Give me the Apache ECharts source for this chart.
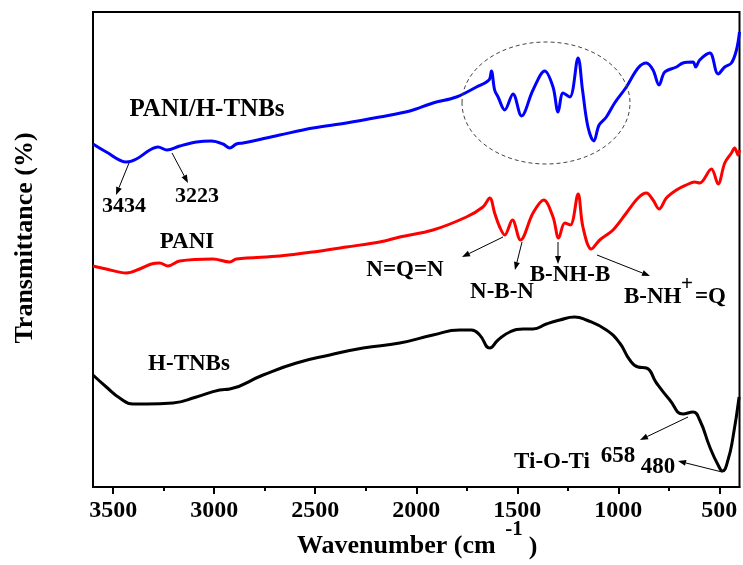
<!DOCTYPE html>
<html>
<head>
<meta charset="utf-8">
<script src="https://cdn.jsdelivr.net/npm/echarts@6/dist/echarts.min.js"></script>
<style>
html,body{margin:0;padding:0;background:#fff;}
#c{width:743px;height:565px;}
</style>
</head>
<body>
<div id="c"></div>
<script>
// Wavenumbers (cm^-1) and relative transmittance (arbitrary units, offset stacked)
const wnBlue = [3600,3534,3435,3385,3319,3278,3234,3171,3088,3014,2957,2923,2890,2858,2676,2511,2346,2181,2032,1917,1801,1702,1640,1628,1612,1595,1562,1521,1479,1422,1364,1323,1298,1273,1240,1199,1177,1150,1121,1095,1059,1018,960,902,861,828,798,770,712,680,630,617,597,547,506,473,440,415,400];
const tBlue  = [343,335,325,328,337,340,337,341,345,346,343,339,343,344,352,359,364,370,376,384,390,400,407,416,397,390,377,393,371,397,416,400,375,394,390,429,397,360,346,362,370,384,400,419,424,417,402,415,420,424,425,420,427,434,413,420,424,437,455];

const wnRed = [3600,3534,3435,3369,3311,3270,3229,3171,3006,2923,2890,2676,2511,2346,2181,2082,1917,1752,1670,1636,1612,1587,1562,1524,1484,1422,1369,1323,1295,1265,1237,1199,1175,1133,1092,1026,960,902,861,828,798,762,712,663,622,597,539,506,473,440,424,407,400];
const tRed  = [221,218,214,218,223,224,221,226,228,225,228,231,235,240,245,250,257,270,280,289,274,260,252,267,247,274,287,270,249,264,262,293,260,238,247,257,274,289,294,287,278,289,297,302,305,304,318,303,324,334,339,332,337];

const wnBlack = [3600,3534,3468,3402,3336,3204,3088,2973,2923,2758,2593,2428,2263,2082,1917,1785,1727,1686,1636,1595,1537,1471,1422,1356,1290,1216,1158,1059,993,943,902,861,811,745,680,630,597,547,506,484,457,432,402];
const tBlack  = [112,100,89,83,83,84,90,97,98,112,124,132,139,144,152,157,157,152,139,147,155,158,158,163,167,170,167,157,144,127,120,119,104,87,73,75,67,40,22,16,27,50,90];

const majorTicks = [500,1000,1500,2000,2500,3000,3500];
const minorTicks = [750,1250,1750,2250,2750,3250];

const seriesNames = ['PANI/H-TNBs','PANI','H-TNBs'];

const FONT = '"Liberation Serif","Times New Roman",serif';
function pairs(xs, ys){ return xs.map((x,i)=>[x, ys[i]]); }

function txt(s, x, y, size, align){
  return {type:'text', x:x, y:y, z:100,
    style:{text:s, font:'bold '+size+'px '+FONT, fill:'#000',
      align: align||'center', verticalAlign:'middle'}};
}
function arrow(x1,y1,x2,y2){
  const a = Math.atan2(y2-y1, x2-x1), L = 8, W = 3;
  const bx = x2 - L*Math.cos(a), by = y2 - L*Math.sin(a);
  const px = -Math.sin(a)*W, py = Math.cos(a)*W;
  return [
    {type:'line', z:100, shape:{x1:x1,y1:y1,x2:bx,y2:by}, style:{stroke:'#000', lineWidth:1}},
    {type:'polygon', z:100, shape:{points:[[x2,y2],[bx+px,by+py],[bx-px,by-py]]}, style:{fill:'#000'}}
  ];
}

const graphics = [
  // dashed ellipse
  {type:'ellipse', z:100, shape:{cx:546, cy:103, rx:84, ry:61},
    style:{fill:'none', stroke:'#444', lineWidth:1, lineDash:[4,3]}},
  txt(seriesNames[0], 207, 110, 25),
  txt(seriesNames[1], 187, 242, 23),
  txt(seriesNames[2], 189, 364, 23),
  txt('3434', 124, 206, 22),
  txt('3223', 197, 196, 22),
  txt('N=Q=N', 405, 270, 23),
  txt('N-B-N', 502, 292, 23),
  txt('B-NH-B', 570, 275, 23),
  txt('B-NH', 624, 297, 23, 'left'),
  txt('+', 687, 285, 21),
  txt('=Q', 695, 297, 23, 'left'),
  txt('Ti-O-Ti', 552, 462, 23),
  txt('658', 618, 456, 23),
  txt('480', 658, 467, 23),
  // axis titles
  txt('Wavenumber (cm', 297, 546, 26, 'left'),
  txt('-1', 514, 530, 21),
  txt(')', 533, 547, 26),
  {type:'text', x:25, y:238, rotation:Math.PI/2, z:100,
    style:{text:'Transmittance (%)', font:'bold 26px '+FONT, fill:'#000', align:'center', verticalAlign:'middle'}}
].concat(
  arrow(129,163,116,195),
  arrow(172,153,188,183),
  arrow(503,237,462,257),
  arrow(522,242,515,270),
  arrow(558,242,558,264),
  arrow(597,255,650,276),
  arrow(688,417,640,440),
  arrow(722,472,678,461)
);

const chart = echarts.init(document.getElementById('c'));
chart.setOption({
  animation:false,
  backgroundColor:'#fff',
  grid:{left:93, right:3.5, top:12, bottom:78, show:true, borderColor:'#000', borderWidth:2},
  xAxis:[
    {type:'value', inverse:true, min:400, max:3600,
      axisLine:{show:true, lineStyle:{color:'#000', width:2}},
      axisTick:{show:true, customValues:majorTicks, length:7, lineStyle:{color:'#000', width:2}},
      axisLabel:{show:true, customValues:majorTicks, margin:12, color:'#000',
        fontFamily:FONT, fontWeight:'bold', fontSize:24, formatter:function(v){return String(v);}},
      splitLine:{show:false}},
    {type:'value', inverse:true, min:400, max:3600, position:'bottom',
      axisLine:{show:false},
      axisTick:{show:true, customValues:minorTicks, length:4, lineStyle:{color:'#000', width:2}},
      axisLabel:{show:false},
      splitLine:{show:false}}
  ],
  yAxis:{type:'value', min:0, max:475,
    axisLine:{show:true, lineStyle:{color:'#000', width:2}},
    axisTick:{show:false}, axisLabel:{show:false}, splitLine:{show:false}},
  series:[
    {name:seriesNames[0], type:'line', data:pairs(wnBlue,tBlue), showSymbol:false, smooth:0.35,
      lineStyle:{color:'#0000ff', width:3}, itemStyle:{color:'#0000ff'}},
    {name:seriesNames[1], type:'line', data:pairs(wnRed,tRed), showSymbol:false, smooth:0.35,
      lineStyle:{color:'#ff0000', width:3}, itemStyle:{color:'#ff0000'}},
    {name:seriesNames[2], type:'line', data:pairs(wnBlack,tBlack), showSymbol:false, smooth:0.5,
      lineStyle:{color:'#000000', width:3}, itemStyle:{color:'#000'}}
  ],
  graphic:graphics
});
</script>
</body>
</html>
